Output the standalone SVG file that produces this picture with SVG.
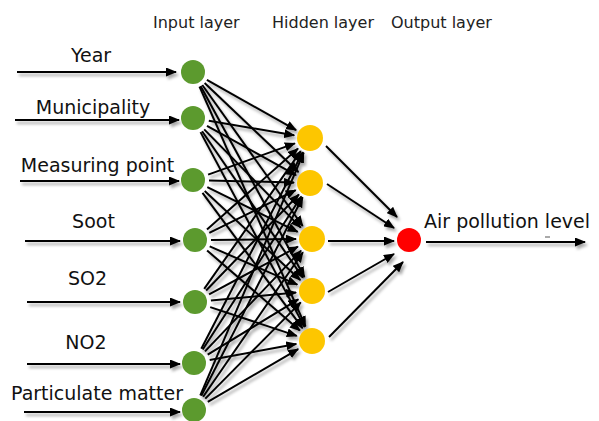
<svg xmlns="http://www.w3.org/2000/svg" width="599" height="421" viewBox="0 0 599 421">
<style>
.lbl{font-family:"DejaVu Sans",Verdana,sans-serif;font-size:19px;fill:#111;text-anchor:middle}
.hdr{font-family:"DejaVu Sans",Verdana,sans-serif;font-size:16px;fill:#222}
.c line{stroke:#000;stroke-width:2;marker-end:url(#ah)}
.in{fill:#5c9a2e}
.hid{fill:#fdc600}
.out{fill:#ff0000}
</style>
<defs>
<marker id="ah" markerUnits="userSpaceOnUse" markerWidth="11" markerHeight="9" viewBox="0 0 11 9" refX="10" refY="4.5" orient="auto">
<path d="M0,0 L11,4.5 L0,9 z" fill="#000"/>
</marker>
<filter id="sh" x="-10%" y="-10%" width="130%" height="130%">
<feDropShadow dx="2" dy="3" stdDeviation="1.5" flood-color="#000" flood-opacity="0.35"/>
</filter>
</defs>
<rect width="599" height="421" fill="#fff"/>
<g id="headers">
<text class="hdr" x="153" y="28">Input layer</text>
<text class="hdr" x="272" y="28">Hidden layer</text>
<text class="hdr" x="391" y="28">Output layer</text>
</g>
<g id="connectors" class="c" filter="url(#sh)">
<line x1="17" y1="72" x2="176" y2="72"/>
<line x1="15" y1="120" x2="179" y2="120"/>
<line x1="20" y1="181" x2="179" y2="181"/>
<line x1="25" y1="241" x2="180" y2="241"/>
<line x1="27" y1="302" x2="180" y2="302"/>
<line x1="27" y1="364" x2="180" y2="364"/>
<line x1="24" y1="412" x2="180" y2="412"/>
<line x1="206.9" y1="79.9" x2="296.1" y2="130.1"/>
<line x1="204.6" y1="83" x2="298.4" y2="172"/>
<line x1="202.3" y1="85" x2="302.7" y2="226"/>
<line x1="200.6" y1="86.1" x2="304.4" y2="276.9"/>
<line x1="199.5" y1="86.6" x2="305.5" y2="326.4"/>
<line x1="208.8" y1="120.7" x2="294.2" y2="135.3"/>
<line x1="207" y1="125.8" x2="296" y2="175.2"/>
<line x1="204.2" y1="129.4" x2="300.8" y2="227.6"/>
<line x1="202.1" y1="131.2" x2="302.9" y2="277.8"/>
<line x1="200.5" y1="132.1" x2="304.5" y2="326.9"/>
<line x1="208.1" y1="174.6" x2="294.9" y2="143.4"/>
<line x1="209" y1="180.4" x2="294" y2="182.6"/>
<line x1="207.3" y1="187.1" x2="297.7" y2="231.9"/>
<line x1="204.7" y1="190.9" x2="300.3" y2="280.1"/>
<line x1="202.5" y1="192.9" x2="302.5" y2="328.1"/>
<line x1="207" y1="229.4" x2="298" y2="148.6"/>
<line x1="209.3" y1="232.9" x2="295.7" y2="190.1"/>
<line x1="211" y1="239.9" x2="296" y2="239.1"/>
<line x1="209.7" y1="246.4" x2="297.3" y2="284.6"/>
<line x1="207.1" y1="250.4" x2="299.9" y2="330.6"/>
<line x1="204.2" y1="288.9" x2="300.8" y2="151.1"/>
<line x1="206.1" y1="290.5" x2="298.9" y2="194.5"/>
<line x1="209.1" y1="294.4" x2="297.9" y2="246.6"/>
<line x1="210.9" y1="300.5" x2="296.1" y2="292.5"/>
<line x1="210.2" y1="307.1" x2="296.8" y2="335.9"/>
<line x1="201.3" y1="348.8" x2="302.7" y2="152.2"/>
<line x1="202.7" y1="349.5" x2="301.3" y2="196.5"/>
<line x1="205" y1="351.4" x2="301" y2="250.6"/>
<line x1="207.7" y1="354.7" x2="298.3" y2="299.3"/>
<line x1="209.7" y1="360.1" x2="296.3" y2="343.9"/>
<line x1="200.3" y1="395.3" x2="303.7" y2="152.7"/>
<line x1="201.3" y1="395.7" x2="302.7" y2="197.3"/>
<line x1="203.1" y1="396.8" x2="302.9" y2="252.2"/>
<line x1="205.3" y1="398.6" x2="300.7" y2="302.4"/>
<line x1="207.8" y1="401.9" x2="298.2" y2="349.1"/>
<line x1="326" y1="146" x2="397" y2="217"/>
<line x1="327" y1="184" x2="394" y2="228"/>
<line x1="328" y1="241" x2="394" y2="241"/>
<line x1="328" y1="292" x2="394" y2="254"/>
<line x1="329" y1="337" x2="403" y2="262"/>
<line x1="426" y1="242" x2="585" y2="242"/>
</g>
<g id="input-year"><circle class="in" cx="193" cy="72" r="12"/><text class="lbl" x="91" y="62">Year</text></g>
<g id="input-municipality"><circle class="in" cx="193" cy="118" r="12"/><text class="lbl" x="93" y="114">Municipality</text></g>
<g id="input-measuring-point"><circle class="in" cx="193" cy="180" r="12"/><text class="lbl" x="97.5" y="172">Measuring point</text></g>
<g id="input-soot"><circle class="in" cx="195" cy="240" r="12"/><text class="lbl" x="93.5" y="228">Soot</text></g>
<g id="input-so2"><circle class="in" cx="195" cy="302" r="12"/><text class="lbl" x="87.5" y="285">SO2</text></g>
<g id="input-no2"><circle class="in" cx="194" cy="363" r="12"/><text class="lbl" x="86" y="349">NO2</text></g>
<g id="input-pm"><circle class="in" cx="194" cy="410" r="12"/><text class="lbl" x="97" y="400">Particulate matter</text></g>
<g id="hidden-1"><circle class="hid" cx="310" cy="138" r="13"/></g>
<g id="hidden-2"><circle class="hid" cx="310" cy="183" r="13"/></g>
<g id="hidden-3"><circle class="hid" cx="312" cy="239" r="13"/></g>
<g id="hidden-4"><circle class="hid" cx="312" cy="291" r="13"/></g>
<g id="hidden-5"><circle class="hid" cx="312" cy="341" r="13"/></g>
<g id="output"><circle class="out" cx="409" cy="240" r="12"/><text class="lbl" x="424" y="228" style="text-anchor:start">Air pollution level</text><line x1="545" y1="237" x2="550" y2="237" stroke="#555" stroke-width="1"/></g>
</svg>
